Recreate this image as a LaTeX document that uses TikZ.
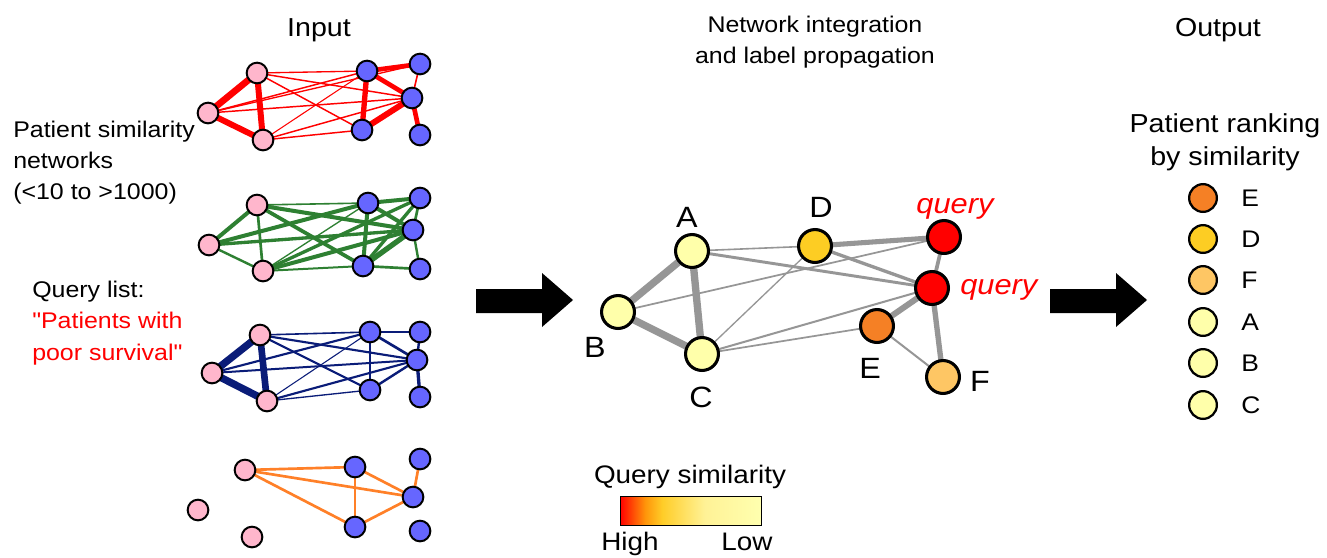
\documentclass[tikz,border=0pt]{standalone}
\usepackage{fontspec}
\setmainfont{Liberation Sans}[FakeStretch=1.1,Ligatures=TeXOff]
\usetikzlibrary{backgrounds}

\definecolor{pinkfill}{RGB}{255,182,204}
\definecolor{bluefill}{RGB}{102,102,255}
\definecolor{netred}{RGB}{255,0,0}
\definecolor{netgreen}{RGB}{46,128,50}
\definecolor{netnavy}{RGB}{10,28,120}
\definecolor{netorange}{RGB}{255,128,40}
\definecolor{edgegray}{RGB}{150,150,150}
\definecolor{simhigh}{RGB}{255,0,0}
\definecolor{simorange}{RGB}{255,150,10}
\definecolor{simgold}{RGB}{255,205,40}
\definecolor{simpale}{RGB}{255,242,150}
\definecolor{simlow}{RGB}{255,255,175}
\definecolor{simE}{RGB}{245,128,37}
\definecolor{simD}{RGB}{253,205,35}
\definecolor{simF}{RGB}{254,198,100}
\definecolor{simA}{RGB}{255,255,170}

\pgfdeclarehorizontalshading{simshade}{100bp}{color(0bp)=(simhigh); color(25bp)=(simhigh); color(34bp)=(simorange); color(40bp)=(simgold); color(55bp)=(simpale); color(75bp)=(simlow); color(100bp)=(simlow)}

\begin{document}
\begin{tikzpicture}[x=0.75pt,y=-0.75pt,
  pn/.style={circle,draw=black,line width=1.5pt,fill=pinkfill,minimum size=15.5pt,inner sep=0pt},
  bn/.style={pn,fill=bluefill},
  mn/.style={circle,draw=black,line width=2.3pt,minimum size=24.7pt,inner sep=0pt},
  rn/.style={circle,draw=black,line width=1.7pt,minimum size=20.8pt,inner sep=0pt},
  ttl/.style={inner sep=0pt,font=\fontsize{19.5}{23}\selectfont},
  subttl/.style={inner sep=0pt,font=\fontsize{17}{20}\selectfont},
  side/.style={inner sep=0pt,font=\fontsize{17}{20}\selectfont},
  mlbl/.style={inner sep=0pt,font=\fontsize{22}{26}\selectfont},
  qlbl/.style={inner sep=0pt,text=red,font=\fontsize{21}{25}\selectfont\itshape},
  rlbl/.style={inner sep=0pt,font=\fontsize{18}{21}\selectfont},
  barlbl/.style={inner sep=0pt,font=\fontsize{19}{22}\selectfont},
  bigarrow/.style={fill=black},
]
\useasboundingbox (0,0) rectangle (1327,557);

% ---------- titles ----------
\node[ttl,anchor=base] (tin) at (319,36) {Input};
\node[subttl,anchor=base] (tnet1) at (815,32) {Network integration};
\node[subttl,anchor=base] (tnet2) at (815,63) {and label propagation};
\node[ttl,anchor=base] (tout) at (1218,36) {Output};

% ---------- side texts ----------
\node[side,anchor=base west] (s1) at (13,137) {Patient similarity};
\node[side,anchor=base west] (s2) at (13,168) {networks};
\node[side,anchor=base west] (s3) at (13,199) {(<10 to >1000)};
\node[side,anchor=base west] (q1) at (32,297) {Query list:};
\node[side,anchor=base west,text=red] (q2) at (32,328) {"Patients with};
\node[side,anchor=base west,text=red] (q3) at (32,360) {poor survival"};

% ---------- input network 1 (red) ----------
\node[pn] (a1) at (257,73) {};
\node[pn] (a2) at (208,113) {};
\node[pn] (a3) at (263,140) {};
\node[bn] (a4) at (367,71) {};
\node[bn] (a5) at (420,64) {};
\node[bn] (a6) at (412,98) {};
\node[bn] (a7) at (362,130) {};
\node[bn] (a8) at (420,135) {};

% ---------- input network 2 (green) ----------
\node[pn] (b1) at (257,205) {};
\node[pn] (b2) at (209,245) {};
\node[pn] (b3) at (263,271) {};
\node[bn] (b4) at (368,203) {};
\node[bn] (b5) at (420,198) {};
\node[bn] (b6) at (413,230) {};
\node[bn] (b7) at (363,266) {};
\node[bn] (b8) at (420,269) {};

% ---------- input network 3 (navy) ----------
\node[pn] (c1) at (260,335) {};
\node[pn] (c2) at (212,373) {};
\node[pn] (c3) at (267,401) {};
\node[bn] (c4) at (370,332) {};
\node[bn] (c5) at (420,332) {};
\node[bn] (c6) at (417,360) {};
\node[bn] (c7) at (370,390) {};
\node[bn] (c8) at (420,397) {};

% ---------- input network 4 (orange) ----------
\node[pn] (d1) at (245,470) {};
\node[pn] (d2) at (198,510) {};
\node[pn] (d3) at (252,537) {};
\node[bn] (d4) at (355,467) {};
\node[bn] (d5) at (420,459) {};
\node[bn] (d6) at (413,497) {};
\node[bn] (d7) at (355,527) {};
\node[bn] (d8) at (420,531) {};

% ---------- integrated network ----------
\node[mn,fill=simA] (A) at (692,251) {};
\node[mn,fill=simA] (B) at (618,312) {};
\node[mn,fill=simA] (C) at (702,354) {};
\node[mn,fill=simD] (D) at (815,246) {};
\node[mn,fill=simhigh] (Q1) at (944,237) {};
\node[mn,fill=simhigh] (Q2) at (932,288) {};
\node[mn,fill=simE] (E) at (877,326) {};
\node[mn,fill=simF] (F) at (943,377) {};

\node[mlbl] (lA) at (687,217) {A};
\node[mlbl] (lB) at (595,347) {B};
\node[mlbl] (lC) at (701,397) {C};
\node[mlbl] (lD) at (821,207) {D};
\node[mlbl] (lE) at (870,368) {E};
\node[mlbl] (lF) at (980,381) {F};
\node[qlbl,anchor=base] (lQ1) at (955,213) {query};
\node[qlbl,anchor=base west] (lQ2) at (960,294) {query};

% ---------- similarity colour bar ----------
\node[barlbl,anchor=base] (bart) at (690,483) {Query similarity};
\node[draw=black,line width=0.75pt,shading=simshade,minimum width=105.75pt,minimum height=21.75pt,inner sep=0pt] (bar) at (690.5,510.5) {};
\node[barlbl,anchor=base] (barh) at (630,550) {High};
\node[barlbl,anchor=base] (barl) at (747,550) {Low};

% ---------- ranking ----------
\node[ttl,anchor=base] (rt1) at (1225,132) {Patient ranking};
\node[ttl,anchor=base] (rt2) at (1225,165) {by similarity};
\node[rn,fill=simE] (o1) at (1203,198) {};
\node[rn,fill=simD] (o2) at (1203,239) {};
\node[rn,fill=simF] (o3) at (1203,280) {};
\node[rn,fill=simA] (o4) at (1203,322) {};
\node[rn,fill=simA] (o5) at (1203,363) {};
\node[rn,fill=simA] (o6) at (1203,405) {};
\node[rlbl,anchor=west] (oE) at (1241,198) {E};
\node[rlbl,anchor=west] (oD) at (1241,239) {D};
\node[rlbl,anchor=west] (oF) at (1241,280) {F};
\node[rlbl,anchor=west] (oA) at (1241,322) {A};
\node[rlbl,anchor=west] (oB) at (1241,363) {B};
\node[rlbl,anchor=west] (oC) at (1241,405) {C};

% ---------- big arrows ----------
\fill[bigarrow] (476,289) -- (542,289) -- (542,273) -- (573,300) -- (542,327) -- (542,313) -- (476,313) -- cycle;
\fill[bigarrow] (1050,289) -- (1116,289) -- (1116,273) -- (1147,300) -- (1116,327) -- (1116,313) -- (1050,313) -- cycle;

% ---------- edges, behind the nodes ----------
\begin{pgfonlayer}{background}
\fill[white] (0,0) rectangle (1327,557);

\begin{scope}[draw=netred]
\draw[line width=5pt] (a1.center) -- (a2.center);
\draw[line width=4.5pt] (a1.center) -- (a3.center);
\draw[line width=4.5pt] (a2.center) -- (a3.center);
\draw[line width=1pt] (a1.center) -- (a4.center);
\draw[line width=1.1pt] (a1.center) -- (a6.center);
\draw[line width=1.1pt] (a1.center) -- (a7.center);
\draw[line width=1.1pt] (a2.center) -- (a4.center);
\draw[line width=1pt] (a2.center) -- (a5.center);
\draw[line width=1.1pt] (a2.center) -- (a6.center);
\draw[line width=0.8pt] (a3.center) -- (a4.center);
\draw[line width=1.1pt] (a3.center) -- (a6.center);
\draw[line width=1.1pt] (a3.center) -- (a7.center);
\draw[line width=3.5pt] (a4.center) -- (a5.center);
\draw[line width=3.5pt] (a4.center) -- (a6.center);
\draw[line width=4pt] (a4.center) -- (a7.center);
\draw[line width=4.5pt] (a7.center) -- (a6.center);
\draw[line width=3.5pt] (a6.center) -- (a8.center);
\draw[line width=1.2pt] (a5.center) -- (a6.center);
\end{scope}

\begin{scope}[draw=netgreen]
\draw[line width=3pt] (b1.center) -- (b2.center);
\draw[line width=2pt] (b1.center) -- (b3.center);
\draw[line width=1.8pt] (b2.center) -- (b3.center);
\draw[line width=1.2pt] (b1.center) -- (b4.center);
\draw[line width=3pt] (b1.center) -- (b6.center);
\draw[line width=2.8pt] (b1.center) -- (b7.center);
\draw[line width=3pt] (b2.center) -- (b4.center);
\draw[line width=2.5pt] (b2.center) -- (b6.center);
\draw[line width=1pt] (b3.center) -- (b4.center);
\draw[line width=2.5pt] (b3.center) -- (b5.center);
\draw[line width=3pt] (b3.center) -- (b6.center);
\draw[line width=1.5pt] (b3.center) -- (b7.center);
\draw[line width=3pt] (b4.center) -- (b5.center);
\draw[line width=3pt] (b4.center) -- (b6.center);
\draw[line width=3pt] (b4.center) -- (b7.center);
\draw[line width=4pt] (b7.center) -- (b6.center);
\draw[line width=1.8pt] (b6.center) -- (b8.center);
\draw[line width=2pt] (b7.center) -- (b8.center);
\draw[line width=2.5pt] (b5.center) -- (b7.center);
\draw[line width=2pt] (b5.center) -- (b6.center);
\end{scope}

\begin{scope}[draw=netnavy]
\draw[line width=5.5pt] (c1.center) -- (c2.center);
\draw[line width=5pt] (c1.center) -- (c3.center);
\draw[line width=5.5pt] (c2.center) -- (c3.center);
\draw[line width=1.2pt] (c1.center) -- (c4.center);
\draw[line width=1.6pt] (c1.center) -- (c6.center);
\draw[line width=1.6pt] (c1.center) -- (c7.center);
\draw[line width=1.6pt] (c2.center) -- (c4.center);
\draw[line width=1.5pt] (c2.center) -- (c6.center);
\draw[line width=0.8pt] (c3.center) -- (c4.center);
\draw[line width=1.6pt] (c3.center) -- (c6.center);
\draw[line width=1pt] (c3.center) -- (c7.center);
\draw[line width=2pt] (c4.center) -- (c5.center);
\draw[line width=2pt] (c4.center) -- (c6.center);
\draw[line width=0.8pt] (c4.center) -- (c7.center);
\draw[line width=1.8pt] (c7.center) -- (c6.center);
\draw[line width=2.5pt] (c6.center) -- (c8.center);
\draw[line width=1.8pt] (c5.center) -- (c6.center);
\end{scope}

\begin{scope}[draw=netorange,line width=2pt]
\draw (d1.center) -- (d4.center);
\draw (d1.center) -- (d6.center);
\draw (d1.center) -- (d7.center);
\draw (d4.center) -- (d7.center);
\draw (d4.center) -- (d6.center);
\draw (d7.center) -- (d6.center);
\draw (d5.center) -- (d6.center);
\end{scope}

\begin{scope}[draw=edgegray]
\draw[line width=5.5pt] (A.center) -- (B.center);
\draw[line width=5.5pt] (B.center) -- (C.center);
\draw[line width=5.5pt] (A.center) -- (C.center);
\draw[line width=1.2pt] (A.center) -- (D.center);
\draw[line width=2.2pt] (A.center) -- (Q2.center);
\draw[line width=1.3pt] (B.center) -- (Q1.center);
\draw[line width=1pt] (C.center) -- (D.center);
\draw[line width=1.5pt] (C.center) -- (Q2.center);
\draw[line width=1.3pt] (C.center) -- (E.center);
\draw[line width=3.8pt] (D.center) -- (Q1.center);
\draw[line width=2.5pt] (D.center) -- (Q2.center);
\draw[line width=2.8pt] (Q1.center) -- (Q2.center);
\draw[line width=4.5pt] (Q2.center) -- (E.center);
\draw[line width=4pt] (Q2.center) -- (F.center);
\draw[line width=1.5pt] (E.center) -- (F.center);
\end{scope}
\end{pgfonlayer}
\end{tikzpicture}
\end{document}
